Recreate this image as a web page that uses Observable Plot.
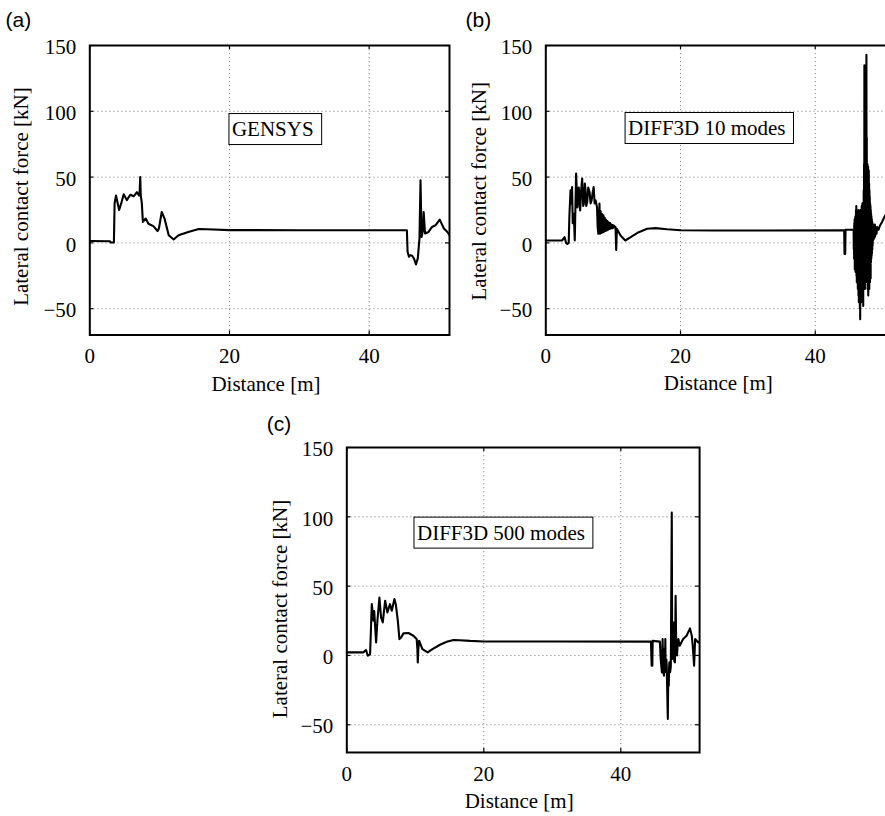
<!DOCTYPE html>
<html>
<head>
<meta charset="utf-8">
<script src="https://cdn.jsdelivr.net/npm/d3@7"></script>
<script src="https://cdn.jsdelivr.net/npm/@observablehq/plot@0.6"></script>
<style>
  html, body { margin: 0; padding: 0; background: #fff; overflow: hidden; }
  #fig { position: relative; width: 885px; height: 816px; overflow: hidden; background: #fff; }
  #fig > div { position: absolute; }
  #fig svg { overflow: visible; max-width: none !important; }
</style>
</head>
<body>
<div id="fig"></div>
<script>
// ---------- data ----------
const xDomain = [0, 51.5];
const yDomain = [-70, 150];
const xTicks = [0, 20, 40];
const yTicks = [-50, 0, 50, 100, 150];
const xLabel = "Distance [m]";
const yLabel = "Lateral contact force [kN]";

// (a) GENSYS  [distance m, force kN]
const gensys = [
  [0, 1.4], [2.9, 1.3], [3.0, 0.3], [3.45, 0.3], [3.55, 30], [3.75, 36], [4.2, 25], [4.5, 30],
  [4.85, 37], [5.3, 32.5], [5.8, 36.6], [6.3, 35.5], [6.75, 38.5], [7.05, 36], [7.15, 40],
  [7.22, 50], [7.3, 36], [7.45, 30], [7.6, 16], [8.0, 18.5], [8.4, 14.5], [9.1, 12.7],
  [9.7, 9], [9.9, 11], [10.3, 23.5], [10.7, 18.5], [11.3, 5.8], [12.0, 2.6], [12.7, 5.8],
  [14.1, 8.3], [15.6, 10.6], [16.75, 10.4], [20, 9.7], [30, 9.6], [45.4, 9.6], [45.5, -6.8],
  [45.7, -10.6], [45.9, -9.3], [46.15, -9.8], [46.4, -11.8], [46.7, -16.4], [46.96, -11.8],
  [47.2, 3.3], [47.35, 47.5], [47.5, 4.5], [47.7, 9.6], [47.8, 23.5], [48.0, 7.1],
  [48.5, 8.3], [49.0, 12.1], [49.5, 13.4], [50.1, 17.7], [50.7, 10.9], [51.2, 8.3], [51.5, 5.8]
];

// (b) DIFF3D 10 modes
const diff10 = [
  [0, 1.8], [2.4, 1.8], [2.8, 4.3], [3.0, 0], [3.2, -0.8], [3.4, 0], [3.5, 20], [3.67, 40],
  [3.8, 29.8], [3.9, 42.4], [4.0, 15], [4.16, 22], [4.3, 1.8], [4.5, 52.7], [4.7, 27],
  [4.9, 42], [5.1, 24.6], [5.25, 40], [5.4, 48.8], [5.55, 28], [5.65, 29.8], [5.8, 45],
  [5.9, 40], [6.0, 28], [6.15, 31], [6.3, 42], [6.5, 38.6], [6.65, 30], [6.8, 32.3],
  [6.95, 38], [7.1, 42.4], [7.25, 30], [7.4, 32.3], [7.6, 27.2], [7.7, 12], [7.8, 6.9],
  [7.97, 29.8], [8.05, 7], [8.15, 24], [8.25, 7.5], [8.35, 22], [8.45, 8], [8.55, 21],
  [8.65, 8.5], [8.75, 19], [8.85, 9], [8.95, 17.5], [9.05, 9.5], [9.15, 16.5], [9.25, 10],
  [9.35, 15.5], [9.45, 10.5], [9.55, 15], [9.65, 11], [9.75, 14], [9.85, 11], [9.95, 13.5],
  [10.05, 11.5], [10.15, 13], [10.25, 12], [10.35, 12], [10.45, -5.3], [10.55, 10.7],
  [11.1, 5.6], [11.8, 1.8], [12.6, 4.3], [13.8, 8.1], [15.05, 10.7], [16.3, 11.2],
  [18, 10.3], [20, 9.6], [25, 9.4], [44.3, 9.5], [44.35, -8.4], [44.45, -8.4], [44.5, 10],
  [45.7, 10], [45.725, -5], [45.75, 8], [45.775, -12], [45.8, 15], [45.825, -8], [45.85, 18],
  [45.875, -20], [45.9, 12], [45.925, -15], [45.95, 20], [45.975, -22], [46.0, 10],
  [46.025, -18], [46.05, 25], [46.075, -12], [46.1, 28], [46.125, -25], [46.15, 15],
  [46.175, -30], [46.2, 22], [46.225, -10], [46.25, 18], [46.275, -28], [46.3, 24],
  [46.325, -35], [46.35, 12], [46.375, -20], [46.4, 25], [46.425, -40], [46.45, 10],
  [46.475, -45], [46.5, 20], [46.525, -30], [46.55, 15], [46.575, -38], [46.6, 22],
  [46.625, -50], [46.65, 10], [46.675, -58], [46.7, 25], [46.725, -35], [46.75, 18],
  [46.775, -42], [46.8, 20], [46.825, -25], [46.85, 12], [46.875, -45], [46.9, 28],
  [46.925, -30], [46.95, 15], [46.975, -40], [47.0, 30], [47.025, -20], [47.05, 10],
  [47.075, -35], [47.1, 25], [47.125, -48], [47.15, 18], [47.175, -30], [47.2, 40],
  [47.225, -25], [47.25, 60], [47.275, -20], [47.3, 135], [47.325, -15], [47.35, 30],
  [47.375, -35], [47.4, 50], [47.425, -25], [47.45, 40], [47.475, -30], [47.5, 61],
  [47.525, -10], [47.55, 100], [47.575, -20], [47.6, 143], [47.625, -15], [47.65, 80],
  [47.675, -25], [47.7, 50], [47.725, -30], [47.75, 60], [47.775, -35], [47.8, 45],
  [47.825, -25], [47.85, 58], [47.875, -40], [47.9, 50], [47.925, -30], [47.95, 55],
  [47.975, -20], [48.0, 45], [48.025, -35], [48.05, 40], [48.075, -25], [48.1, 35],
  [48.125, -30], [48.15, 30], [48.175, -20], [48.2, 28], [48.225, -27], [48.25, 25],
  [48.275, -15], [48.3, 22], [48.325, -12], [48.35, 20], [48.375, -10], [48.4, 18],
  [48.425, -8], [48.45, 16], [48.475, -5], [48.5, 15], [48.525, -2], [48.55, 14],
  [48.6, 2], [48.65, 13], [48.7, 3], [48.75, 12], [48.8, 4], [48.85, 14], [48.9, 5],
  [49.0, 12], [49.1, 7], [49.2, 12], [49.4, 10], [49.6, 13], [49.9, 15.7], [50.2, 19],
  [50.4, 21], [50.6, 17], [50.8, 20], [51.0, 16], [51.3, 18], [51.5, 15]
];

// (c) DIFF3D 500 modes
const diff500 = [
  [0, 2.2], [2.4, 2.2], [2.8, 3.9], [3.07, -0.2], [3.4, 1], [3.65, 37], [3.9, 25], [4.0, 32],
  [4.28, 9.4], [4.47, 25], [4.76, 41.8], [5.0, 27.4], [5.25, 23.8], [5.6, 39.5], [5.93, 31],
  [6.3, 37], [6.57, 32.3], [6.95, 40.7], [7.15, 37], [7.45, 25], [7.68, 11.8], [7.93, 13],
  [8.27, 15.9], [9.0, 16.2], [9.72, 14.2], [10.2, 11.8], [10.3, 5], [10.36, -5], [10.45, 5],
  [10.55, 10.6], [11.04, 4.6], [11.8, 2.2], [12.5, 4.6], [13.6, 7.7], [14.6, 9.9],
  [15.56, 11.1], [16.5, 11], [18, 10.5], [20, 10.1], [30, 10.1], [44.4, 10], [44.5, -7.4],
  [44.6, -7.4], [44.65, 10.5], [45.7, 10], [45.84, -3.8], [46.0, -12.3], [46.05, 0],
  [46.1, 11.8], [46.15, -5], [46.2, -8], [46.25, -12], [46.3, -14.6], [46.35, -2], [46.4, 5],
  [46.45, -6], [46.5, 11.8], [46.55, -12], [46.6, -10], [46.65, -3], [46.7, -7.4],
  [46.86, -45.9], [46.93, -15], [47.0, -21.9], [47.05, -8], [47.1, -5], [47.2, -12],
  [47.3, -8], [47.44, 103], [47.5, -2.6], [47.55, 5], [47.6, 10], [47.65, 0], [47.7, 23.8],
  [47.75, 2], [47.8, -4], [47.9, -5], [48.0, 43], [48.1, 2], [48.2, 0], [48.3, 8],
  [48.4, 11.8], [48.6, 7], [49.1, 11.8], [49.6, 14.2], [50.1, 19.5], [50.36, 14.2],
  [50.5, 7], [50.7, -7.4], [50.85, 11.8], [51.3, 9.4], [51.5, 10]
];

const tags = ["(a)", "(b)", "(c)"];
const notes = ["GENSYS", "DIFF3D 10 modes", "DIFF3D 500 modes"];
const noteX = [26.2, 23.9, 22.5];
const noteY = [86.3, 87.1, 88.4];

// ---------- layout ----------
const panels = [
  {series: gensys, left: 0, top: 0, mL: 89.3, mT: 45, pw: 359.7, ph: 289.5, mR: 11, mB: 65.5,
   tagDx: -84.3, tagDy: -18.3, yDx: -62, yDy: 6.3, xDx: -3.7},
  {series: diff10, left: 456, top: 0, mL: 89.3, mT: 45, pw: 346.9, ph: 289.5, mR: 10, mB: 65.5,
   tagDx: -80.3, tagDy: -18.3, yDx: -60.3, yDy: 1, xDx: -1},
  {series: diff500, left: 257.4, top: 401.7, mL: 89.3, mT: 45, pw: 352.8, ph: 305, mR: 10, mB: 64.3,
   tagDx: -80, tagDy: -16.7, yDx: -60, yDy: 9, xDx: -4}
];

const serif = "'Liberation Serif', 'Times New Roman', serif";
const sans = "'Liberation Sans', Arial, sans-serif";
const fig = document.getElementById("fig");

panels.forEach((p, i) => {
  const rows = p.series.map(([d, f]) => ({d, f}));
  const W = p.mL + p.pw + p.mR;
  const H = p.mT + p.ph + p.mB;
  const grid = {stroke: "#8a8a8a", strokeOpacity: 1, strokeWidth: 1, strokeDasharray: "1.2,2.8"};
  const svg = Plot.plot({
    width: W, height: H,
    marginLeft: p.mL, marginTop: p.mT, marginRight: p.mR, marginBottom: p.mB,
    style: {fontFamily: serif, fontSize: "21px", color: "black", background: "transparent", overflow: "visible", maxWidth: "none"},
    x: {domain: xDomain},
    y: {domain: yDomain},
    marks: [
      Plot.gridX(xTicks.filter(t => t > xDomain[0]), grid),
      Plot.gridY(yTicks.filter(t => t < yDomain[1]), grid),
      Plot.line(rows, {x: "d", y: "f", stroke: "black", strokeWidth: 2.1, strokeLinejoin: "round", clip: true}),
      Plot.ruleX(xTicks, {x: d => d, insetTop: p.ph - 4, stroke: "black", strokeWidth: 1.2}),
      Plot.ruleX(xTicks, {x: d => d, insetBottom: p.ph - 4, stroke: "black", strokeWidth: 1.2}),
      Plot.ruleY(yTicks, {y: d => d, insetRight: p.pw - 4, stroke: "black", strokeWidth: 1.2}),
      Plot.ruleY(yTicks, {y: d => d, insetLeft: p.pw - 4, stroke: "black", strokeWidth: 1.2}),
      Plot.frame({stroke: "black", strokeWidth: 2}),
      Plot.axisX(xTicks, {tickSize: 0, tickPadding: 13.5, fontSize: 21, label: null}),
      Plot.axisY(yTicks, {tickSize: 0, tickPadding: 13.5, fontSize: 21, dy: 2, label: null}),
      Plot.text([notes[i]], {x: noteX[i], y: noteY[i], text: d => d, fontSize: 21,
        textAnchor: "middle", lineAnchor: "middle", fill: "black"}),
      Plot.text([xLabel], {text: d => d, frameAnchor: "bottom", dx: p.xDx, dy: 55.5,
        lineAnchor: "bottom", textAnchor: "middle", fontSize: 21, fill: "black"}),
      Plot.text([yLabel], {text: d => d, frameAnchor: "left", dx: p.yDx, dy: p.yDy, rotate: -90,
        lineAnchor: "bottom", textAnchor: "middle", fontSize: 21, fill: "black"}),
      Plot.text([tags[i]], {text: d => d, frameAnchor: "top-left", dx: p.tagDx, dy: p.tagDy,
        lineAnchor: "bottom", textAnchor: "start", fontSize: 21, fontFamily: sans, fill: "black"})
    ]
  });
  svg.style.maxWidth = "none";
  svg.style.width = W + "px";
  const holder = document.createElement("div");
  holder.style.left = p.left + "px";
  holder.style.top = p.top + "px";
  holder.style.width = W + "px";
  holder.style.height = H + "px";
  holder.appendChild(svg);
  fig.appendChild(holder);

  // box around the annotation text
  svg.querySelectorAll("text").forEach(t => {
    if (t.textContent !== notes[i]) return;
    const g = t.parentNode;
    const b = g.getBBox();
    const r = document.createElementNS("http://www.w3.org/2000/svg", "rect");
    r.setAttribute("x", b.x - 3);
    r.setAttribute("y", b.y - 3.5);
    r.setAttribute("width", b.width + 11);
    r.setAttribute("height", b.height + 7);
    r.setAttribute("fill", "white");
    r.setAttribute("stroke", "black");
    r.setAttribute("stroke-width", 1);
    g.insertBefore(r, g.firstChild);
  });
});
</script>
</body>
</html>
